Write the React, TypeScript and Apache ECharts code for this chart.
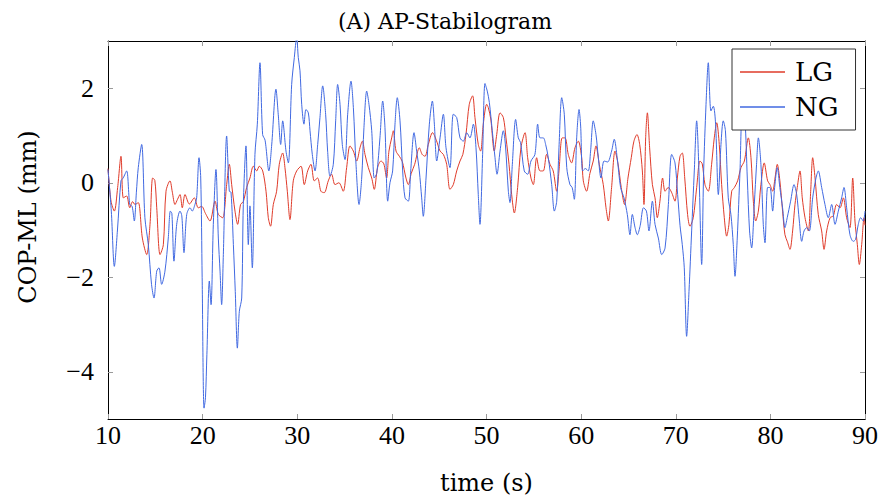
import React, { useEffect, useRef } from "react";
import * as echarts from "echarts";

const TITLE = "(A) AP-Stabilogram";
const X_NAME = "time (s)";
const Y_NAME = "COP-ML (mm)";
const SERIES_NAMES = ["LG", "NG"];
const Y_TICKS = [-4, -2, 0, 2];

// LG: [time (s), COP-ML (mm)]
const LG: [number, number][] = [
  [10.0, 0.3], [10.32, -0.39], [10.67, -0.6], [11.02, -0.1], [11.37, 0.56], [11.62, -0.32], [11.97, -0.28],
  [12.3, -0.53], [12.6, -0.4], [12.85, -0.46], [13.2, -0.42], [13.63, -1.17], [14.09, -1.52], [14.44, -0.88],
  [14.72, 0.1], [14.95, 0.05], [15.15, -0.53], [15.5, -1.52], [15.85, -1.31], [16.13, -0.18], [16.55, 0.04],
  [16.8, -0.2], [17.08, -0.46], [17.35, -0.35], [17.61, -0.25], [17.85, -0.53], [18.14, -0.25], [18.6, -0.45],
  [19.12, -0.32], [19.54, -0.53], [19.9, -0.5], [20.3, -0.65], [20.78, -0.81], [21.31, -0.39], [21.66, -0.67],
  [22.12, -0.74], [22.54, -0.04], [22.82, 0.39], [23.07, -0.04], [23.42, -0.6], [23.7, -0.88], [24.01, -0.46],
  [24.3, -0.4], [24.65, -0.1], [25.0, 0.1], [25.36, 0.35], [25.71, 0.25], [25.99, 0.35], [26.35, 0.25],
  [26.7, -0.18], [26.94, -0.74], [27.18, -0.92], [27.47, -0.46], [27.82, -0.18], [28.1, 0.39], [28.46, 0.63],
  [28.7, 0.32], [28.95, -0.18], [29.23, -0.78], [29.58, 0.04], [29.94, 0.25], [30.4, 0.35], [30.74, -0.04],
  [31.1, 0.25], [31.45, 0.39], [31.8, 0.04], [32.15, 0.1], [32.5, -0.18], [32.85, -0.21], [33.28, 0.04],
  [33.63, 0.18], [33.99, -0.04], [34.4, 0.0], [34.86, -0.18], [35.22, 0.32], [35.57, 0.78], [35.93, 0.67],
  [36.28, 0.46], [36.63, 0.74], [36.88, 0.88], [37.16, 0.6], [37.51, 0.32], [37.87, 0.1], [38.14, -0.14],
  [38.49, 0.32], [38.85, 0.46], [39.15, 0.4], [39.44, 0.1], [39.69, 0.67], [39.98, 0.95], [40.15, 1.1],
  [40.44, 0.67], [40.79, 0.56], [41.1, 0.45], [41.49, 0.1], [41.74, -0.04], [42.05, 0.2], [42.41, 0.39],
  [42.9, 0.74], [43.2, 0.6], [43.5, 0.56], [43.85, 0.81], [44.3, 1.06], [44.7, 0.9], [45.09, 0.67],
  [45.44, 0.6], [45.79, 0.39], [46.14, -0.14], [46.49, -0.04], [46.85, 0.25], [47.2, 0.46], [47.5, 0.6],
  [47.83, 1.02], [48.18, 1.66], [48.53, 1.84], [48.78, 1.38], [49.13, 0.81], [49.38, 0.67], [49.66, 1.24],
  [50.02, 1.66], [50.19, 1.59], [50.45, 1.35], [50.82, 0.67], [51.08, 1.02], [51.43, 1.48], [51.78, 1.38],
  [52.06, 0.95], [52.38, 0.39], [52.66, -0.25], [52.94, -0.64], [53.29, -0.1], [53.64, 0.74], [54.07, 1.06],
  [54.35, 0.53], [54.7, 0.1], [54.95, -0.04], [55.3, 0.53], [55.65, 0.25], [56.0, 0.25], [56.35, 0.6],
  [56.71, 0.39], [57.05, 0.25], [57.42, -0.18], [57.66, 0.25], [58.0, 0.95], [58.3, 0.95], [58.64, 0.6],
  [58.99, 0.42], [59.35, 0.74], [59.7, 0.88], [60.06, 0.53], [60.23, 0.04], [60.58, -0.18], [60.93, 0.2],
  [61.28, 0.46], [61.57, 0.78], [61.92, 0.39], [62.34, -0.04], [62.63, -0.53], [62.87, -0.81], [63.22, -0.1],
  [63.58, 0.67], [63.9, 0.4], [64.24, -0.1], [64.59, -0.46], [64.95, 0.1], [65.3, 0.53], [65.58, 0.88],
  [65.9, 1.02], [66.19, 0.81], [66.47, 0.25], [66.64, -0.46], [66.82, 0.95], [67.0, 1.48], [67.24, 0.74],
  [67.53, -0.04], [67.81, -0.32], [68.05, -0.74], [68.33, -0.39], [68.61, 0.1], [68.87, -0.18], [69.2, -0.1],
  [69.55, -0.2], [69.92, -0.39], [70.17, 0.1], [70.45, 0.56], [70.69, 0.63], [70.95, 0.1], [71.25, -0.67],
  [71.5, -0.92], [71.85, -0.74], [72.21, -0.1], [72.56, 0.46], [72.8, 0.4], [73.09, -0.04], [73.44, -0.18],
  [73.79, 0.39], [74.07, 0.95], [74.33, 1.27], [74.6, 0.81], [74.85, -0.04], [75.13, -0.74], [75.38, -1.13],
  [75.62, -0.88], [75.91, -0.18], [76.2, -0.1], [76.54, 0.04], [76.89, 0.32], [77.25, 0.46], [77.67, 0.95],
  [77.95, 0.53], [78.2, -0.39], [78.45, -0.81], [78.73, -0.6], [79.0, -0.04], [79.35, 0.42], [79.71, 0.04],
  [79.96, -0.04], [80.24, -0.18], [80.49, 0.1], [80.73, 0.39], [81.0, 0.05], [81.29, -0.6], [81.54, -1.1],
  [81.8, -1.25], [82.07, -1.41], [82.35, -1.02], [82.6, -0.46], [82.84, -0.1], [83.13, 0.25], [83.37, -0.32],
  [83.66, -0.74], [84.01, -1.02], [84.26, -0.18], [84.47, 0.53], [84.72, 0.1], [85.06, -0.67], [85.42, -1.02],
  [85.67, -1.41], [85.95, -1.02], [86.31, -0.74], [86.65, -0.7], [87.0, -0.46], [87.36, -0.53], [87.71, -0.32],
  [88.06, -0.74], [88.41, -0.95], [88.7, 0.1], [88.94, -0.81], [89.19, -1.31], [89.4, -1.73], [89.65, -1.31],
  [89.9, -0.74], [90.0, -0.9],
];

// NG: [time (s), COP-ML (mm)]
const NG: [number, number][] = [
  [10.0, 0.28], [10.35, -0.6], [10.67, -1.77], [11.0, -1.0], [11.37, 0.04], [11.6, 0.1], [11.97, 0.25],
  [12.3, -0.46], [12.55, -0.5], [12.78, -0.81], [13.0, -0.2], [13.2, 0.32], [13.56, 0.81], [13.9, -0.74],
  [14.26, -1.31], [14.6, -2.15], [14.86, -2.44], [15.15, -1.87], [15.39, -1.8], [15.67, -2.15], [16.02, -1.87],
  [16.37, -1.17], [16.59, -0.6], [16.75, -0.65], [16.97, -1.66], [17.26, -0.88], [17.61, -0.6], [17.8, -0.7],
  [18.03, -1.48], [18.32, -0.67], [18.67, -0.53], [18.9, -0.6], [19.19, -0.46], [19.37, -0.32], [19.62, 0.53],
  [19.8, 0.1], [19.95, -2.0], [20.15, -4.77], [20.3, -4.55], [20.45, -3.64], [20.71, -2.08], [20.89, -2.58],
  [21.13, -0.88], [21.41, 0.28], [21.66, -1.17], [21.84, -1.87], [22.01, -2.58], [22.19, -1.52], [22.54, 0.99],
  [22.82, -0.18], [23.0, -0.2], [23.25, -1.31], [23.45, -2.3], [23.67, -3.5], [23.88, -2.72], [24.13, -2.44],
  [24.3, -0.46], [24.58, 0.78], [24.83, -1.31], [25.0, -0.49], [25.25, -1.8], [25.53, 0.6], [25.78, 1.24],
  [26.06, 2.54], [26.34, 1.02], [26.6, 0.9], [27.0, 0.25], [27.3, 0.8], [27.75, 1.98], [27.99, 1.45],
  [28.25, 0.81], [28.46, 1.31], [28.81, 0.67], [29.06, 0.42], [29.41, 2.08], [29.69, 2.65], [29.94, 3.07],
  [30.11, 2.65], [30.29, 2.37], [30.47, 1.66], [30.71, 1.24], [30.92, 1.55], [31.17, 1.48], [31.35, 1.1],
  [31.59, 0.6], [31.88, 0.25], [32.16, 0.81], [32.4, 1.38], [32.69, 2.05], [33.0, 1.45], [33.21, 0.67],
  [33.46, 0.14], [33.81, 0.39], [34.06, 1.31], [34.27, 2.08], [34.52, 1.66], [34.76, 0.81], [35.05, 0.49],
  [35.33, 1.45], [35.68, 2.15], [35.93, 1.59], [36.21, 0.39], [36.53, -0.46], [36.81, 0.1], [37.05, 1.17],
  [37.34, 1.94], [37.58, 1.66], [37.87, 1.1], [38.14, 0.1], [38.4, 0.2], [38.74, 0.95], [39.03, 1.73],
  [39.27, 1.17], [39.56, -0.39], [39.8, 0.0], [40.08, 0.25], [40.33, 1.24], [40.57, 1.8], [40.86, 1.31],
  [41.14, 0.25], [41.39, -0.32], [41.74, -0.39], [41.99, 0.25], [42.34, 1.06], [42.62, 0.67], [42.9, 0.25],
  [43.15, -0.32], [43.32, -0.71], [43.61, 0.1], [43.96, 1.24], [44.28, 1.73], [44.49, 1.24], [44.74, 0.46],
  [45.09, 0.95], [45.44, 1.45], [45.72, 0.74], [46.14, 0.32], [46.49, 1.45], [46.85, 1.38], [47.2, 0.95],
  [47.55, 0.88], [47.91, 1.06], [48.25, 0.95], [48.61, 1.24], [48.89, 0.74], [49.13, -0.25], [49.31, -0.88],
  [49.59, 0.6], [49.84, 2.1], [50.08, 1.94], [50.3, 1.7], [50.61, 1.1], [50.9, 0.53], [51.11, 0.18],
  [51.43, 0.67], [51.78, 1.1], [52.0, 0.8], [52.31, -0.18], [52.48, -0.42], [52.73, 0.39], [53.08, 1.34],
  [53.36, 0.95], [53.6, 0.85], [53.99, 0.25], [54.35, 0.18], [54.7, 0.46], [55.12, 0.6], [55.41, 1.24],
  [55.65, 0.95], [56.0, 0.95], [56.25, 0.81], [56.53, 0.53], [56.89, -0.04], [57.17, -0.6], [57.42, -0.39],
  [57.66, 0.74], [57.95, 1.8], [58.22, 1.45], [58.48, 0.32], [58.82, -0.04], [59.05, -0.1], [59.28, -0.35],
  [59.53, 0.95], [59.78, 1.55], [59.95, 1.2], [60.16, 0.25], [60.45, 0.3], [60.75, 0.25], [61.0, 0.67],
  [61.28, 1.31], [61.57, 1.02], [61.82, 0.53], [62.1, 0.1], [62.42, 0.46], [62.8, 0.44], [63.22, 0.67],
  [63.5, 0.92], [63.81, 0.53], [64.17, -0.1], [64.53, -0.32], [64.88, -0.67], [65.16, -1.1], [65.41, -0.67],
  [65.7, -0.95], [65.94, -1.1], [66.25, -0.9], [66.59, -0.53], [66.9, -0.6], [67.17, -1.02], [67.53, -0.39],
  [67.81, -0.88], [68.16, -1.17], [68.52, -1.52], [68.87, -1.38], [69.22, -0.46], [69.57, 0.6], [69.92, 0.42],
  [70.2, -0.25], [70.45, -0.9], [70.69, -1.31], [70.9, -1.8], [71.15, -3.25], [71.4, -2.3], [71.68, -1.02],
  [71.96, 0.25], [72.21, 1.31], [72.45, 0.25], [72.74, -1.73], [72.95, 0.25], [73.2, 1.66], [73.44, 2.54],
  [73.72, 1.52], [73.97, 1.62], [74.21, 1.24], [74.5, -0.25], [74.78, 0.81], [75.02, 1.31], [75.25, 1.1],
  [75.55, -0.32], [75.83, -0.67], [76.08, -1.31], [76.26, -1.98], [76.5, -1.17], [76.79, 0.25], [77.03, 1.45],
  [77.3, 1.35], [77.56, 0.1], [77.8, -1.02], [78.02, -1.38], [78.3, -0.46], [78.54, 0.39], [78.73, 0.95],
  [79.0, 0.39], [79.25, -0.88], [79.43, -1.27], [79.71, -0.1], [79.96, -0.1], [80.24, -0.6], [80.45, -0.1],
  [80.73, 0.32], [81.0, -0.1], [81.29, -0.53], [81.54, -0.95], [81.78, -0.74], [82.14, -0.39], [82.5, -0.04],
  [82.78, -0.25], [83.06, -0.81], [83.31, -1.24], [83.56, -1.02], [83.85, -0.95], [84.12, -1.02], [84.47, -0.32],
  [84.82, 0.1], [85.06, 0.25], [85.42, -0.1], [85.77, -0.46], [86.12, -0.74], [86.48, -0.46], [86.83, -0.88],
  [87.18, -0.6], [87.53, -0.32], [87.78, -0.1], [88.06, -0.53], [88.41, -1.1], [88.76, -1.24], [89.0, -1.2],
  [89.29, -0.88], [89.54, -0.74], [89.82, -0.81], [90.0, -0.6],
];

const COLORS = ["#df3b2a", "#4169e1"];

export default function App() {
  const ref = useRef<HTMLDivElement>(null);
  useEffect(() => {
    document.body.style.margin = "0";
    if (!ref.current) return;
    const chart = echarts.init(ref.current, null, { renderer: "svg" });
    const serifNum = "Liberation Serif";
    const serifText = "DejaVu Serif";
    const fmt = (v: number) => (v < 0 ? "\u2212" + Math.abs(v) : String(v));
    const tickStyle = { inside: true, length: 5, lineStyle: { color: "#9a9a9a", width: 1 } };
    const lineStyle = { color: "#000", width: 1 };
    chart.setOption({
      animation: false,
      backgroundColor: "#fff",
      grid: { left: 108, right: 17, top: 41, bottom: 79, containLabel: false, outerBoundsMode: "none" },
      graphic: [
        {
          type: "text",
          x: 445,
          y: 21,
          style: {
            text: TITLE,
            fontFamily: serifText,
            fontSize: 22,
            fill: "#000",
            align: "center",
            verticalAlign: "middle",
          },
        },
        {
          type: "text",
          x: 28,
          y: 217,
          rotation: Math.PI / 2,
          style: {
            text: Y_NAME,
            fontFamily: serifText,
            fontSize: 24,
            fill: "#000",
            align: "center",
            verticalAlign: "middle",
          },
        },
      ],
      legend: {
        data: SERIES_NAMES.map((n) => ({ name: n, icon: "rect" })),
        orient: "vertical",
        left: 732,
        top: 49,
        padding: [10, 17, 10, 8],
        itemGap: 9,
        itemWidth: 45,
        itemHeight: 1.5,
        borderColor: "#333",
        borderWidth: 1,
        backgroundColor: "#fff",
        textStyle: { fontFamily: serifText, fontSize: 26, color: "#000", padding: [0, 0, 0, 5] },
      },
      xAxis: [
        {
          type: "value",
          min: 10,
          max: 90,
          interval: 10,
          position: "bottom",
          axisLine: { show: true, onZero: false, lineStyle },
          axisTick: tickStyle,
          axisLabel: { fontFamily: serifNum, fontSize: 26, color: "#000", margin: 3 },
          splitLine: { show: false },
          name: X_NAME,
          nameLocation: "middle",
          nameGap: 52,
          nameTextStyle: { fontFamily: serifText, fontSize: 24, color: "#000" },
        },
        {
          type: "value",
          min: 10,
          max: 90,
          interval: 10,
          position: "top",
          axisLine: { show: true, onZero: false, lineStyle },
          axisTick: tickStyle,
          axisLabel: { show: false },
          splitLine: { show: false },
        },
      ],
      yAxis: [
        {
          type: "value",
          min: -5,
          max: 3,
          position: "left",
          axisLine: { show: true, onZero: false, lineStyle },
          axisTick: { ...tickStyle, customValues: Y_TICKS },
          axisLabel: {
            customValues: Y_TICKS,
            formatter: fmt,
            fontFamily: serifNum,
            fontSize: 26,
            color: "#000",
            margin: 14,
          },
          splitLine: { show: false },
        },
        {
          type: "value",
          min: -5,
          max: 3,
          position: "right",
          axisLine: { show: true, onZero: false, lineStyle },
          axisTick: { ...tickStyle, customValues: Y_TICKS },
          axisLabel: { show: false },
          splitLine: { show: false },
        },
      ],
      series: [
        {
          name: SERIES_NAMES[0],
          type: "line",
          data: LG,
          symbol: "none",
          showSymbol: false,
          smooth: 0.3,
          color: COLORS[0],
          lineStyle: { color: COLORS[0], width: 1 },
          xAxisIndex: 0,
          yAxisIndex: 0,
          z: 2,
        },
        {
          name: SERIES_NAMES[1],
          type: "line",
          data: NG,
          symbol: "none",
          showSymbol: false,
          smooth: 0.3,
          color: COLORS[1],
          lineStyle: { color: COLORS[1], width: 1 },
          xAxisIndex: 0,
          yAxisIndex: 0,
          z: 3,
        },
      ],
    });
    return () => chart.dispose();
  }, []);
  return <div ref={ref} style={{ width: 882, height: 498 }} />;
}
